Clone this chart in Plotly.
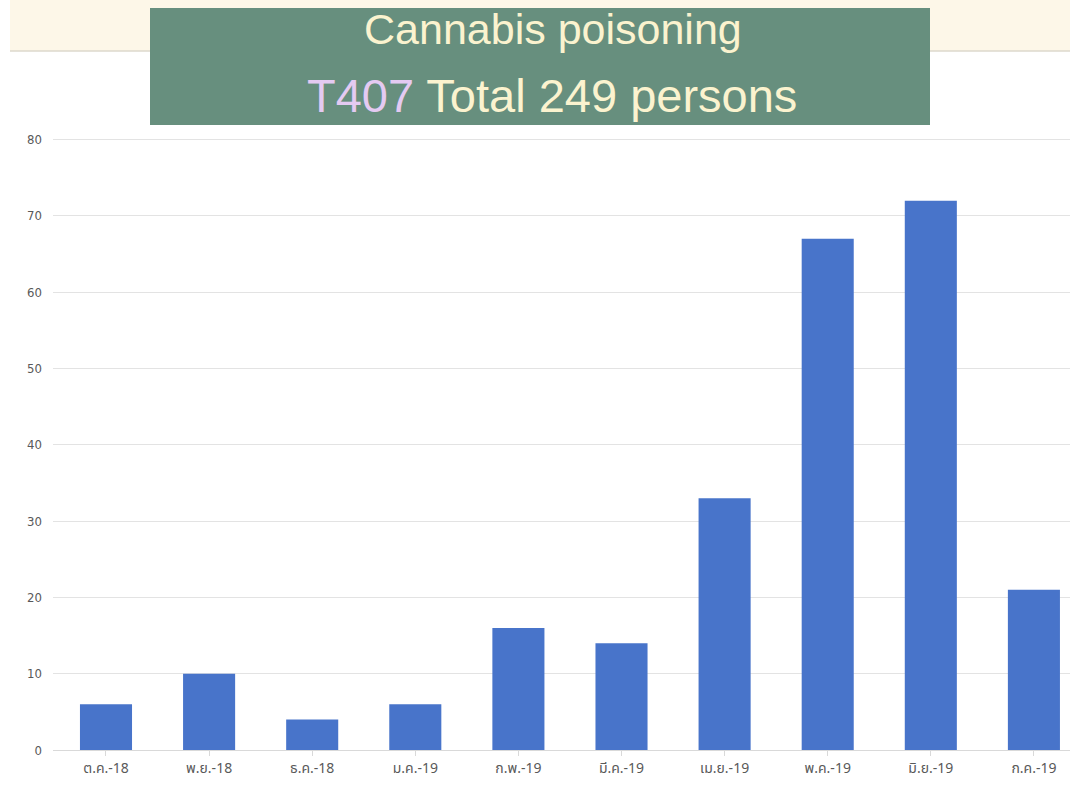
import plotly.graph_objects as go

# ---- data ----
months = ["ต.ค.-18", "พ.ย.-18", "ธ.ค.-18", "ม.ค.-19", "ก.พ.-19",
          "มี.ค.-19", "เม.ย.-19", "พ.ค.-19", "มิ.ย.-19", "ก.ค.-19"]
cases = [6, 10, 4, 6, 16, 14, 33, 67, 72, 21]
y_ticks = [0, 10, 20, 30, 40, 50, 60, 70, 80]
title_line1 = "Cannabis poisoning"
title_code = "T407"
title_rest = "Total 249 persons"

W, H = 1070, 803
L, R, T, B = 53, 0, 132, 53
PW, PH = W - L - R, H - T - B


def px(x):
    return (x - L) / PW


def py(y):
    return (H - B - y) / PH


fig = go.Figure()
fig.add_trace(go.Bar(
    x=list(range(len(months))), y=cases, width=0.505,
    marker=dict(color="#4874ca", line=dict(width=0)),
    hoverinfo="skip",
))

shapes = [
    # cream header band
    dict(type="rect", xref="paper", yref="paper",
         x0=px(10), x1=px(1070), y0=py(51), y1=py(0),
         fillcolor="#fdf7e8", line=dict(width=0), layer="below"),
    dict(type="line", xref="paper", yref="paper",
         x0=px(10), x1=px(1070), y0=py(51), y1=py(51),
         line=dict(color="#dcd8cc", width=1.5)),
    # title box
    dict(type="rect", xref="paper", yref="paper",
         x0=px(150), x1=px(930), y0=py(125), y1=py(8),
         fillcolor="#678f7e", line=dict(width=0)),
]

annotations = [
    dict(xref="paper", yref="paper", x=px(553), y=py(29),
         xanchor="center", yanchor="middle", showarrow=False,
         text=title_line1,
         font=dict(family="Liberation Sans, Arial, sans-serif", size=43, color="#fbf3cf")),
    dict(xref="paper", yref="paper", x=px(552), y=py(95),
         xanchor="center", yanchor="middle", showarrow=False,
         text=f"<span style='color:#e4caf2'>{title_code}</span> {title_rest}",
         font=dict(family="Liberation Sans, Arial, sans-serif", size=47, color="#fbf3cf")),
]

fig.update_layout(
    width=W, height=H,
    margin=dict(l=L, r=R, t=T, b=B, pad=0),
    paper_bgcolor="white", plot_bgcolor="white",
    showlegend=False,
    shapes=shapes, annotations=annotations,
    xaxis=dict(
        range=[-0.514, 9.35],
        tickmode="array", tickvals=list(range(len(months))), ticktext=months,
        showline=True, linecolor="#d9d9d9", linewidth=1,
        ticks="outside", tickson="boundaries", ticklen=5, tickcolor="#d9d9d9",
        showgrid=False, zeroline=False,
        tickfont=dict(family="Tahoma, Noto Sans Thai, DejaVu Sans, sans-serif", size=14, color="#595959"),
    ),
    yaxis=dict(
        range=[0, 81], tickmode="array", tickvals=y_ticks,
        showgrid=True, gridcolor="#e3e3e3", gridwidth=1,
        zeroline=False, showline=False, ticks="",
        ticklabelstandoff=10,
        tickfont=dict(family="Liberation Sans Narrow, DejaVu Sans Condensed, sans-serif", size=13, color="#595959"),
    ),
)

fig.write_html("out.html")
